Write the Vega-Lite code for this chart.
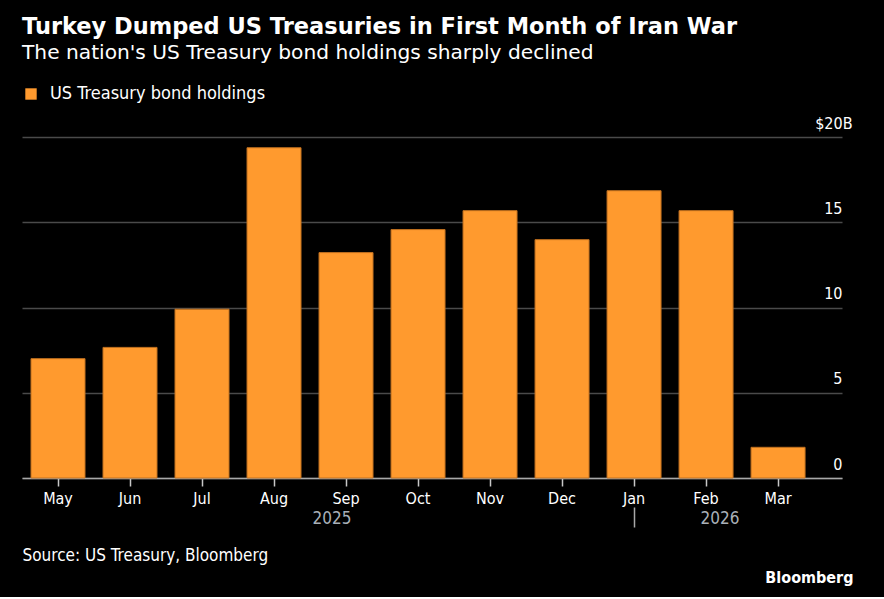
{
  "$schema": "https://vega.github.io/schema/vega-lite/v6.json",
  "background": "#000000",
  "padding": {"left": 22, "top": 16, "right": 31, "bottom": 12},
  "width": 820,
  "height": 341,
  "title": {
    "text": "Turkey Dumped US Treasuries in First Month of Iran War",
    "subtitle": "The nation's US Treasury bond holdings sharply declined",
    "anchor": "start",
    "font": "DejaVu Sans, sans-serif",
    "fontSize": 22.5,
    "fontWeight": "bold",
    "color": "#ffffff",
    "subtitleFont": "DejaVu Sans, sans-serif",
    "subtitleFontSize": 20.2,
    "subtitleColor": "#ffffff",
    "subtitlePadding": 4,
    "offset": 22
  },
  "data": {
    "values": [
      {"month": "May", "value": 7.0, "series": "US Treasury bond holdings"},
      {"month": "Jun", "value": 7.66, "series": "US Treasury bond holdings"},
      {"month": "Jul", "value": 9.9, "series": "US Treasury bond holdings"},
      {"month": "Aug", "value": 19.37, "series": "US Treasury bond holdings"},
      {"month": "Sep", "value": 13.22, "series": "US Treasury bond holdings"},
      {"month": "Oct", "value": 14.57, "series": "US Treasury bond holdings"},
      {"month": "Nov", "value": 15.68, "series": "US Treasury bond holdings"},
      {"month": "Dec", "value": 13.98, "series": "US Treasury bond holdings"},
      {"month": "Jan", "value": 16.85, "series": "US Treasury bond holdings"},
      {"month": "Feb", "value": 15.68, "series": "US Treasury bond holdings"},
      {"month": "Mar", "value": 1.8, "series": "US Treasury bond holdings"}
    ]
  },
  "layer": [
    {
      "mark": {"type": "bar", "stroke": "#c0701f", "strokeWidth": 1},
      "encoding": {
        "x": {
          "field": "month",
          "type": "nominal",
          "sort": null,
          "scale": {"paddingInner": 0.25, "paddingOuter": 0.319, "align": 0.196},
          "axis": {
            "title": null,
            "labelAngle": 0,
            "labelColor": "#ffffff",
            "labelFont": "DejaVu Sans Condensed, DejaVu Sans, sans-serif",
            "labelFontSize": 16,
            "labelPadding": 4,
            "domainColor": "#a8a8a8",
            "domainWidth": 1.5,
            "tickColor": "#c8c8c8",
            "tickSize": 8,
            "tickWidth": 1.5,
            "grid": false
          }
        },
        "y": {
          "field": "value",
          "type": "quantitative",
          "scale": {"domain": [0, 20], "nice": false},
          "axis": {
            "orient": "right",
            "values": [0, 5, 10, 15, 20],
            "labelExpr": "datum.value == 20 ? '$20B' : datum.label",
            "labelAlign": "right",
            "labelBaseline": "middle",
            "labelOffset": -14,
            "labelPadding": {"condition": {"test": "datum.value == 20", "value": 10}, "value": 0},
            "labelColor": "#ffffff",
            "labelFont": "DejaVu Sans Condensed, DejaVu Sans, sans-serif",
            "labelFontSize": 16,
            "labelBound": false,
            "labelFlush": false,
            "labelOverlap": false,
            "domain": false,
            "ticks": false,
            "grid": true,
            "gridColor": "#4a4a4a",
            "gridWidth": 1.5,
            "title": "Bloomberg",
            "titleAngle": 0,
            "titleAlign": "right",
            "titleBaseline": "middle",
            "titleX": 11,
            "titleY": 440,
            "titleColor": "#ffffff",
            "titleFont": "DejaVu Sans Condensed, DejaVu Sans, sans-serif",
            "titleFontSize": 16,
            "titleFontWeight": "bold"
          }
        },
        "color": {
          "field": "series",
          "type": "nominal",
          "scale": {"domain": ["US Treasury bond holdings"], "range": ["#ff9a2e"]},
          "legend": {
            "title": null,
            "orient": "none",
            "legendX": 0,
            "legendY": -52,
            "padding": 0,
            "symbolType": "square",
            "symbolSize": 130,
            "symbolStrokeWidth": 0,
            "labelColor": "#ffffff",
            "labelFont": "DejaVu Sans Condensed, DejaVu Sans, sans-serif",
            "labelFontSize": 18,
            "labelOffset": 10,
            "labelLimit": 500
          }
        }
      }
    },
    {
      "mark": {"type": "bar", "opacity": 0},
      "encoding": {
        "x": {
          "field": "month",
          "type": "nominal",
          "sort": null,
          "axis": {
            "orient": "bottom",
            "offset": 29,
            "domain": false,
            "grid": false,
            "labelAngle": 0,
            "labelExpr": "datum.value == 'Sep' ? '2025' : datum.value == 'Feb' ? '2026' : ''",
            "labelOffset": {"condition": {"test": "datum.value == 'Sep'", "value": -14}, "value": 14},
            "labelColor": "#a9b0b8",
            "labelFont": "DejaVu Sans Condensed, DejaVu Sans, sans-serif",
            "labelFontSize": 17,
            "labelBaseline": "middle",
            "labelPadding": -9,
            "labelOverlap": false,
            "labelBound": false,
            "labelFlush": false,
            "ticks": true,
            "tickSize": 20,
            "tickWidth": 1.5,
            "tickColor": "#a8a8a8",
            "tickOpacity": {"condition": {"test": "datum.value == 'Jan'", "value": 1}, "value": 0},
            "title": "Source: US Treasury, Bloomberg",
            "titleAnchor": "start",
            "titleAlign": "left",
            "titleColor": "#ffffff",
            "titleFont": "DejaVu Sans Condensed, DejaVu Sans, sans-serif",
            "titleFontSize": 17,
            "titleFontWeight": "normal",
            "titlePadding": 20
          }
        },
        "y": {"field": "value", "type": "quantitative"}
      }
    }
  ],
  "resolve": {"axis": {"x": "independent"}},
  "config": {"view": {"stroke": null}}
}
